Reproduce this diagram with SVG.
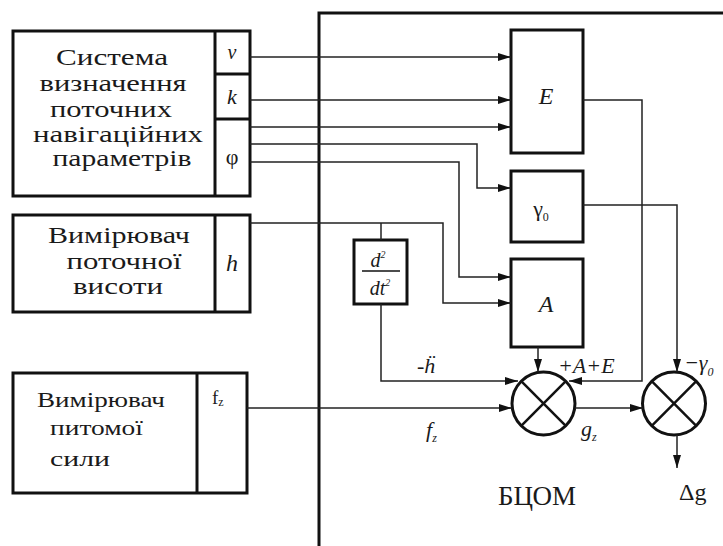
<svg xmlns="http://www.w3.org/2000/svg" width="723" height="546" viewBox="0 0 723 546" font-family="'Liberation Serif','Times New Roman',Times,'DejaVu Serif',serif">
<style>
.box{fill:none;stroke:#111;stroke-width:3}
.ln{fill:none;stroke:#222;stroke-width:1.5}
.t{font-family:'Liberation Serif','Times New Roman',Times,'DejaVu Serif',serif;fill:#1a1a1a}
.i{font-style:italic}
</style>
<defs>
<marker id="ar" markerUnits="userSpaceOnUse" markerWidth="14" markerHeight="10" refX="13" refY="5" orient="auto">
<path d="M0,1 L13,5 L0,9 Z" fill="#111"/>
</marker>
</defs>
<rect width="723" height="546" fill="#fff"/>
<g id="bcom">
<rect class="box" x="319" y="13" width="420" height="560"/>
<text class="t" x="537" y="505" font-size="27" text-anchor="middle">БЦОМ</text>
</g>
<g id="nav">
<rect class="box" x="13" y="31" width="237" height="165"/>
<line class="box" x1="215" y1="31" x2="215" y2="196"/>
<line class="box" x1="215" y1="74" x2="250" y2="74"/>
<line class="box" x1="215" y1="119" x2="250" y2="119"/>
<g class="t" font-size="24" text-anchor="middle">
<text x="112" y="65" textLength="112" lengthAdjust="spacingAndGlyphs">Система</text>
<text x="113" y="91" textLength="147" lengthAdjust="spacingAndGlyphs">визначення</text>
<text x="111" y="117" textLength="122" lengthAdjust="spacingAndGlyphs">поточних</text>
<text x="118" y="142" textLength="170" lengthAdjust="spacingAndGlyphs">навігаційних</text>
<text x="122" y="166" textLength="139" lengthAdjust="spacingAndGlyphs">параметрів</text>
</g>
<text class="t i" x="232" y="59" font-size="20" text-anchor="middle">ν</text>
<text class="t i" x="232" y="104" font-size="22" text-anchor="middle">k</text>
<text class="t" x="232" y="164" font-size="22" text-anchor="middle">φ</text>
</g>
<g id="height">
<rect class="box" x="13" y="215" width="237" height="97"/>
<line class="box" x1="215" y1="215" x2="215" y2="312"/>
<g class="t" font-size="23" text-anchor="middle">
<text x="119" y="243" textLength="142" lengthAdjust="spacingAndGlyphs">Вимірювач</text>
<text x="124" y="269" textLength="115" lengthAdjust="spacingAndGlyphs">поточної</text>
<text x="118" y="294" textLength="90" lengthAdjust="spacingAndGlyphs">висоти</text>
</g>
<text class="t i" x="232" y="271" font-size="24" text-anchor="middle">h</text>
</g>
<g id="force">
<rect class="box" x="13" y="373" width="234" height="120"/>
<line class="box" x1="197" y1="373" x2="197" y2="493"/>
<g class="t" font-size="22">
<text x="37" y="407" textLength="128" lengthAdjust="spacingAndGlyphs">Вимірювач</text>
<text x="50" y="435" textLength="93" lengthAdjust="spacingAndGlyphs">питомої</text>
<text x="50" y="466" textLength="60" lengthAdjust="spacingAndGlyphs">сили</text>
</g>
<text class="t" x="212" y="404" font-size="19">f<tspan font-size="12" dy="2">z</tspan></text>
</g>
<g id="E">
<rect class="box" x="511" y="30" width="72" height="123"/>
<text class="t i" x="546" y="104" font-size="24" text-anchor="middle">E</text>
</g>
<g id="gamma0">
<rect class="box" x="511" y="171" width="72" height="71"/>
<text class="t" x="541" y="216" font-size="22" text-anchor="middle">γ<tspan font-size="12" dy="5">0</tspan></text>
</g>
<g id="A">
<rect class="box" x="511" y="259" width="72" height="88"/>
<text class="t i" x="546" y="312" font-size="24" text-anchor="middle">A</text>
</g>
<g id="deriv">
<rect class="box" x="354" y="240" width="53" height="64"/>
<text class="t i" x="378" y="267" font-size="20" text-anchor="middle">d<tspan font-size="10" dy="-9">2</tspan></text>
<line x1="362" y1="271" x2="400" y2="271" stroke="#111" stroke-width="1.5"/>
<text class="t i" x="380" y="295" font-size="20" text-anchor="middle">dt<tspan font-size="10" dy="-9">2</tspan></text>
</g>
<g id="sum1">
<circle cx="543.5" cy="403.5" r="31.5" fill="none" stroke="#111" stroke-width="3"/>
<line x1="521.2" y1="381.2" x2="565.8" y2="425.8" stroke="#111" stroke-width="2.5"/>
<line x1="565.8" y1="381.2" x2="521.2" y2="425.8" stroke="#111" stroke-width="2.5"/>
</g>
<g id="sum2">
<circle cx="674" cy="403.5" r="31.5" fill="none" stroke="#111" stroke-width="3"/>
<line x1="651.7" y1="381.2" x2="696.3" y2="425.8" stroke="#111" stroke-width="2.5"/>
<line x1="696.3" y1="381.2" x2="651.7" y2="425.8" stroke="#111" stroke-width="2.5"/>
</g>
<g id="connectors">
<path class="ln" d="M250,57 H511" marker-end="url(#ar)"/>
<path class="ln" d="M250,100 H511" marker-end="url(#ar)"/>
<path class="ln" d="M250,127 H511" marker-end="url(#ar)"/>
<path class="ln" d="M250,144 H477 V188 H511" marker-end="url(#ar)"/>
<path class="ln" d="M250,162 H459 V277 H511" marker-end="url(#ar)"/>
<path class="ln" d="M250,223 H443 V303 H511" marker-end="url(#ar)"/>
<path class="ln" d="M381,223 V240"/>
<path class="ln" d="M381,304 V381 H518" marker-end="url(#ar)"/>
<path class="ln" d="M583,100 H642 V381 H569" marker-end="url(#ar)"/>
<path class="ln" d="M583,205 H677 V372" marker-end="url(#ar)"/>
<path class="ln" d="M538,347 V372" marker-end="url(#ar)"/>
<path class="ln" d="M247,408 H512" marker-end="url(#ar)"/>
<path class="ln" d="M575,408 H643" marker-end="url(#ar)"/>
<path class="ln" d="M677,435 V468" marker-end="url(#ar)"/>
</g>
<g id="labels" class="t">
<text class="i" x="417" y="373" font-size="22">-ḧ</text>
<text class="i" x="558" y="373" font-size="22">+A+E</text>
<text class="i" x="684" y="370" font-size="22">−γ<tspan font-size="12" dy="6">0</tspan></text>
<text class="i" x="426" y="437" font-size="22">f<tspan font-size="12" dy="5">z</tspan></text>
<text class="i" x="581" y="436" font-size="22">g<tspan font-size="12" dy="5">z</tspan></text>
<text x="679" y="500" font-size="24">Δg</text>
</g>
</svg>
